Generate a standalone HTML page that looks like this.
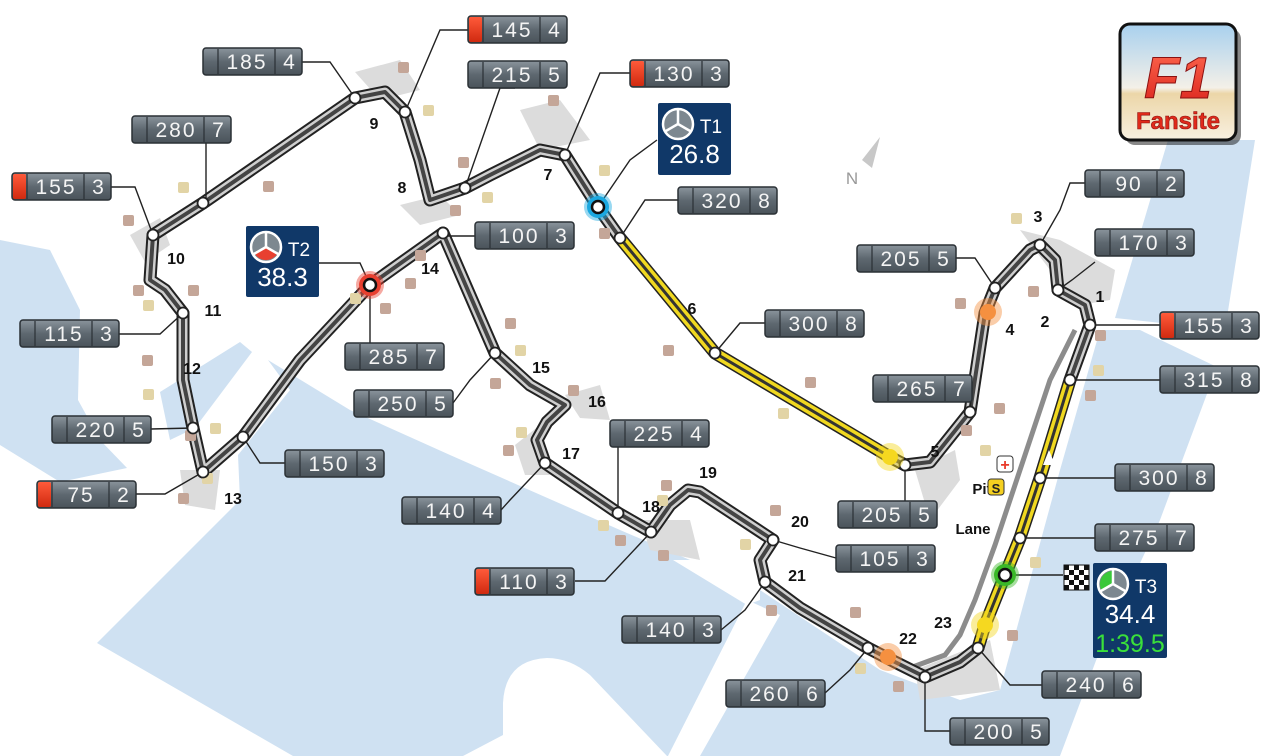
<!DOCTYPE html>
<html><head><meta charset="utf-8"><style>
html,body{margin:0;padding:0;background:#fff;}
svg{display:block;font-family:"Liberation Sans",sans-serif;}
</style></head><body>
<svg id="s" width="1271" height="756" viewBox="0 0 1271 756" xmlns="http://www.w3.org/2000/svg">
<defs>
<linearGradient id="bx" x1="0" y1="0" x2="0" y2="1"><stop offset="0" stop-color="#8a949c"/><stop offset="0.5" stop-color="#5e6870"/><stop offset="1" stop-color="#4a535a"/></linearGradient>
<linearGradient id="rd" x1="0" y1="0" x2="0" y2="1"><stop offset="0" stop-color="#ff5a3a"/><stop offset="1" stop-color="#d02a10"/></linearGradient>
<linearGradient id="lg" x1="0" y1="0" x2="0" y2="1"><stop offset="0" stop-color="#a8d0ee"/><stop offset="0.55" stop-color="#f4f0e8"/><stop offset="0.6" stop-color="#ecd6a8"/><stop offset="1" stop-color="#f8f0e0"/></linearGradient>
<linearGradient id="lt" x1="0" y1="0" x2="0" y2="1"><stop offset="0" stop-color="#ff6a50"/><stop offset="1" stop-color="#d8201a"/></linearGradient>
</defs>
<!-- water -->
<g fill="#cfe1f2">
<polygon points="97,643 180,560 240,500 238,455 290,390 268,360 350,410 450,455 620,530 760,590 880,670 960,700 1000,690 1060,470 1100,330 1140,330 1217,367 1160,520 1100,650 1060,756 293,756"/>
<polygon points="160,392 240,342 252,352 195,428 170,440"/>
<polygon points="0,240 50,250 80,310 78,400 100,440 127,468 60,482 0,445"/>
<polygon points="1168,140 1255,140 1225,330 1115,318"/>
</g>
<g fill="#fff">
<path d="M463,756 L503,735 L503,703 Q505,660 547,658 Q570,658 590,675 L667,756 Z"/>
<polygon points="747,600 780,615 700,756 668,756"/>
<polygon points="673,560 760,560 760,600 747,605"/>
</g>
<!-- runoff -->
<g fill="#dcdcdc">
<polygon points="130,235 160,218 170,245 145,262"/>
<polygon points="355,72 400,60 420,90 380,100"/>
<polygon points="520,110 560,100 590,140 540,150"/>
<polygon points="400,205 440,195 460,215 420,225"/>
<polygon points="515,445 540,425 550,475 525,475"/>
<polygon points="565,395 600,385 610,420 580,418"/>
<polygon points="640,520 690,520 700,560 650,550"/>
<polygon points="915,470 955,450 960,480 930,520"/>
<polygon points="180,470 220,470 215,510 185,505"/>
<polygon points="915,670 990,640 1000,690 920,700"/>
<polygon points="1020,230 1060,240 1115,270 1110,300 1080,305 1050,270"/>
</g>
<!-- pit lane -->
<polyline points="1075,330 1050,380 1020,470 995,545 975,600 960,635 945,655 910,668" fill="none" stroke="#8c8c8c" stroke-width="5"/>
<g id="g"></g>
</svg>
<script>
const NS="http://www.w3.org/2000/svg",g=document.getElementById('g');
function el(t,a,p){const e=document.createElementNS(NS,t);for(const k in a)e.setAttribute(k,a[k]);(p||g).appendChild(e);return e;}
const track="1090,325 1070,380 1040,478 1020,538 1005,575 985,625 978,648 960,662 925,677 895,662 868,648 800,608 765,582 760,560 773,540 700,492 688,490 670,505 651,532 618,513 545,463 537,440 547,422 565,405 530,385 495,353 443,233 370,285 300,360 243,437 203,472 193,428 183,380 183,313 165,290 150,280 153,235 203,203 355,98 385,92 405,112 420,160 430,200 465,188 490,175 540,150 565,155 598,207 620,238 715,353 890,457 905,465 930,462 970,412 985,313 995,288 1030,250 1040,245 1055,260 1058,290 1085,305 1090,325";
el('polyline',{points:track,fill:'none',stroke:'#222','stroke-width':13,'stroke-linejoin':'round'});
el('polyline',{points:track,fill:'none',stroke:'#cfcfcf','stroke-width':9,'stroke-linejoin':'round'});
el('polyline',{points:track,fill:'none',stroke:'#444','stroke-width':4,'stroke-linejoin':'round'});
const ys=["620,238 715,353 890,457","1070,380 1040,478 1020,538 1005,575 985,625 978,648"];
ys.forEach(p=>{el('polyline',{points:p,fill:'none',stroke:'#f0d820','stroke-width':10});el('polyline',{points:p,fill:'none',stroke:'#333','stroke-width':3});});
el('path',{d:'M1043,465 L1049,450 L1055,465Z',fill:'#fff'});
const dots=[[403,67,0],[428,110,1],[463,162,0],[487,197,1],[455,210,0],[553,100,0],[604,170,1],[604,233,0],[183,187,1],[268,186,0],[128,220,0],[138,290,0],[148,305,1],[193,290,0],[147,360,0],[148,394,1],[190,435,0],[215,428,1],[183,498,0],[207,478,1],[355,298,1],[385,308,0],[410,283,0],[420,255,0],[510,323,0],[520,350,1],[495,383,0],[573,390,0],[521,432,1],[508,450,0],[668,350,0],[810,382,0],[783,413,1],[666,485,0],[662,500,1],[603,525,1],[620,540,0],[663,555,0],[775,510,0],[745,544,1],[771,610,0],[855,612,0],[860,668,1],[898,686,0],[1016,218,1],[1033,291,0],[960,303,0],[999,408,0],[985,450,1],[966,430,0],[1012,635,0],[1035,562,1],[1098,370,1],[1100,335,0],[1090,395,0]];
dots.forEach(d=>el('rect',{x:d[0]-5,y:d[1]-5,width:11,height:11,rx:2,fill:d[2]?'#e2d4a6':'#c4a698'}));
const L=[[302,62,330,62,355,98],[518,30,440,30,405,112],[515,88,500,88,465,188],[630,73,600,73,565,155],[206,143,206,203,203,203],[111,187,135,187,153,235],[678,200,645,200,620,238],[1085,183,1070,183,1060,210,1040,245],[1095,262,1072,280,1058,290],[955,258,975,258,995,288],[475,236,443,236,443,233],[765,323,740,323,715,353],[1160,325,1090,325],[119,334,160,334,183,313],[370,343,370,285],[1160,380,1070,380],[972,388,970,412],[453,403,470,380,495,353],[151,429,193,428],[618,446,618,513],[285,463,260,463,243,437],[136,494,165,494,203,472],[1115,478,1040,478],[905,501,905,465],[501,510,510,500,545,463],[1095,538,1020,538],[836,558,800,548,773,540],[575,581,605,581,651,532],[721,630,745,610,765,582],[1042,685,1010,685,978,648],[825,693,850,670,868,648],[950,731,925,731,925,677],[319,263,360,263,370,285],[657,140,630,160,598,207],[1063,575,1005,575]];
L.forEach(p=>{let pts=[];for(let i=0;i<p.length;i+=2)pts.push(p[i]+','+p[i+1]);el('polyline',{points:pts.join(' '),fill:'none',stroke:'#222','stroke-width':1.4});});
[[355,98],[405,112],[465,188],[565,155],[203,203],[153,235],[620,238],[1040,245],[1058,290],[995,288],[443,233],[715,353],[1090,325],[183,313],[1070,380],[970,412],[495,353],[193,428],[618,513],[243,437],[203,472],[1040,478],[905,465],[545,463],[1020,538],[773,540],[651,532],[765,582],[978,648],[868,648],[925,677]].forEach(p=>el('circle',{cx:p[0],cy:p[1],r:5.5,fill:'#fff',stroke:'#222','stroke-width':1.8}));
[[598,207,'#1aa8e0',1],[370,285,'#e84030',1],[1005,575,'#3ab828',1],[890,457,'#f5d820',0],[988,312,'#f59040',0],[985,625,'#f5d820',0],[888,657,'#f59040',0]].forEach(c=>{
 el('circle',{cx:c[0],cy:c[1],r:14,fill:c[2],opacity:0.45});
 if(c[3]){el('circle',{cx:c[0],cy:c[1],r:11,fill:c[2]});el('circle',{cx:c[0],cy:c[1],r:6,fill:'#fff',stroke:'#111','stroke-width':2.5});}
 else el('circle',{cx:c[0],cy:c[1],r:8,fill:c[2]});
});
const B=[[203,48,'185','4',0],[468,16,'145','4',1],[468,61,'215','5',0],[630,60,'130','3',1],[132,116,'280','7',0],[12,173,'155','3',1],[678,187,'320','8',0],[1085,170,'90','2',0],[1095,229,'170','3',0],[857,245,'205','5',0],[475,222,'100','3',0],[765,310,'300','8',0],[1160,312,'155','3',1],[20,320,'115','3',0],[345,343,'285','7',0],[1160,366,'315','8',0],[873,375,'265','7',0],[354,390,'250','5',0],[52,416,'220','5',0],[610,420,'225','4',0],[285,450,'150','3',0],[37,481,'75','2',1],[1115,464,'300','8',0],[838,501,'205','5',0],[402,497,'140','4',0],[1095,524,'275','7',0],[836,545,'105','3',0],[475,568,'110','3',1],[622,616,'140','3',0],[1042,671,'240','6',0],[726,680,'260','6',0],[950,718,'200','5',0]];
B.forEach(b=>{const [x,y,s,n,r]=b;
 el('rect',{x:x,y:y,width:99,height:27,rx:3,fill:'url(#bx)',stroke:'#2a3035','stroke-width':1.5});
 if(r)el('rect',{x:x+1,y:y+1,width:13,height:25,rx:2,fill:'url(#rd)'});
 el('line',{x1:x+15,y1:y+1,x2:x+15,y2:y+26,stroke:'#2a3035','stroke-width':1.2});
 el('line',{x1:x+72,y1:y+1,x2:x+72,y2:y+26,stroke:'#2a3035','stroke-width':1.2});
 el('text',{x:x+44,y:y+21,'text-anchor':'middle','font-size':21,fill:'#f4f4f4','letter-spacing':2}).textContent=s;
 el('text',{x:x+86,y:y+21,'text-anchor':'middle','font-size':21,fill:'#f4f4f4'}).textContent=n;
});
function merc(cx,cy,col,seg){el('circle',{cx:cx,cy:cy,r:15,fill:'#7d8890',stroke:'#fff','stroke-width':2.5});
 if(col){const a={0:'M0,0 L0,-13 A13,13 0 0 1 11.3,6.5Z',1:'M0,0 L11.3,6.5 A13,13 0 0 1 -11.3,6.5Z',2:'M0,0 L-11.3,6.5 A13,13 0 0 1 0,-13Z'}[seg];const p=el('path',{d:a,fill:col});p.setAttribute('transform',`translate(${cx},${cy})`);}
 [[0,-15],[13,7.5],[-13,7.5]].forEach(d=>el('line',{x1:cx,y1:cy,x2:cx+d[0],y2:cy+d[1],stroke:'#fff','stroke-width':2.5}));}
function T(x,y,w,h,lab,val,col,seg,extra){el('rect',{x:x,y:y,width:w,height:h,rx:2,fill:'#103868'});merc(x+20,y+21,col,seg);
 el('text',{x:x+53,y:y+30,'text-anchor':'middle','font-size':19,fill:'#fff'}).textContent=lab;
 el('text',{x:x+w/2,y:y+60,'text-anchor':'middle','font-size':26,fill:'#fff'}).textContent=val;
 if(extra)el('text',{x:x+w/2,y:y+89,'text-anchor':'middle','font-size':25,fill:'#3ae03a'}).textContent=extra;}
T(658,103,73,72,'T1','26.8',null,0);
T(246,226,73,71,'T2','38.3','#e84030',1);
T(1093,563,74,95,'T3','34.4','#3ac83a',2,'1:39.5');
for(let i=0;i<5;i++)for(let j=0;j<5;j++)el('rect',{x:1064+i*5,y:565+j*5,width:5,height:5,fill:(i+j)%2?'#fff':'#111'});
el('rect',{x:1064,y:565,width:25,height:25,fill:'none',stroke:'#111','stroke-width':1});
const N=[['1',1100,302],['2',1045,327],['3',1038,222],['4',1010,335],['5',935,457],['6',692,314],['7',548,180],['8',402,193],['9',374,129],['10',176,264],['11',213,316],['12',192,374],['13',233,504],['14',430,274],['15',541,373],['16',597,407],['17',571,459],['18',651,512],['19',708,478],['20',800,527],['21',797,581],['22',908,644],['23',943,628]];
N.forEach(n=>el('text',{x:n[1],y:n[2],'text-anchor':'middle','font-size':16,'font-weight':'bold',fill:'#111'}).textContent=n[0]);
el('text',{x:982,y:494,'text-anchor':'middle','font-size':15,'font-weight':'bold',fill:'#111'}).textContent='Pit';
el('text',{x:973,y:534,'text-anchor':'middle','font-size':15,'font-weight':'bold',fill:'#111'}).textContent='Lane';
el('rect',{x:997,y:456,width:16,height:16,rx:3,fill:'#fff',stroke:'#333'});
el('text',{x:1005,y:470,'text-anchor':'middle','font-size':16,'font-weight':'bold',fill:'#e83a2a'}).textContent='+';
el('rect',{x:988,y:479,width:16,height:16,rx:3,fill:'#f5d020',stroke:'#333'});
el('text',{x:996,y:493,'text-anchor':'middle','font-size':13,'font-weight':'bold',fill:'#222'}).textContent='S';
el('path',{d:'M862,160 L880,137 L872,168Z',fill:'#c8c8c8'});
el('text',{x:852,y:184,'text-anchor':'middle','font-size':17,fill:'#999'}).textContent='N';
el('rect',{x:1122,y:26,width:116,height:116,rx:10,fill:'#111',opacity:0.5,transform:'translate(3,3)'});
el('rect',{x:1120,y:24,width:116,height:116,rx:10,fill:'url(#lg)',stroke:'#111','stroke-width':3});
el('text',{x:1178,y:98,'text-anchor':'middle','font-size':58,'font-weight':'bold','font-style':'italic',fill:'url(#lt)',stroke:'#8a1010','stroke-width':1}).textContent='F1';
el('text',{x:1178,y:129,'text-anchor':'middle','font-size':24,'font-weight':'bold',fill:'#e02a1a',stroke:'#8a1010','stroke-width':0.6}).textContent='Fansite';
</script>
</body></html>
